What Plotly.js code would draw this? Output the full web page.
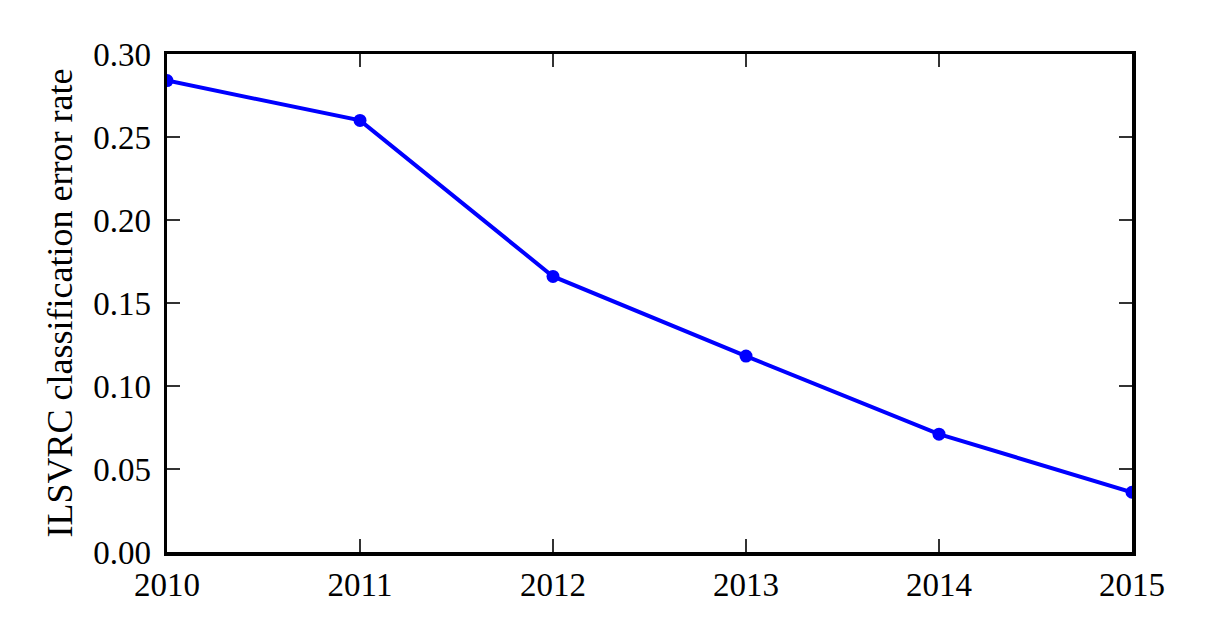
<!DOCTYPE html>
<html><head><meta charset="utf-8">
<script src="https://cdn.plot.ly/plotly-3.0.1.min.js"></script>
<style>html,body{margin:0;padding:0;background:#fff}</style>
</head><body>
<div id="chart" style="width:1213px;height:622px"></div>
<script>
const years = [2010, 2011, 2012, 2013, 2014, 2015];
const errorRate = [0.284, 0.260, 0.166, 0.118, 0.071, 0.036];
const yTicks = [0, 0.05, 0.10, 0.15, 0.20, 0.25, 0.30];
const yTickLabels = ['0.00', '0.05', '0.10', '0.15', '0.20', '0.25', '0.30'];
const xTickLabels = ['2010', '2011', '2012', '2013', '2014', '2015'];

const font = {family: 'Liberation Serif, DejaVu Serif, serif', size: 33, color: '#000'};
Plotly.newPlot('chart', [{
  x: years, y: errorRate, type: 'scatter', mode: 'lines+markers',
  line: {color: '#0000ff', width: 4},
  marker: {color: '#0000ff', size: 13},
  cliponaxis: true
}], {
  width: 1213, height: 622,
  margin: {l: 167, r: 81, t: 54, b: 70},
  paper_bgcolor: '#fff', plot_bgcolor: '#fff',
  showlegend: false,
  font: font,
  xaxis: {
    range: [2010, 2015], tickvals: years, ticktext: xTickLabels,
    ticks: 'inside', ticklen: 13, tickwidth: 1.5, tickcolor: '#333',
    showline: true, linewidth: 3.5, linecolor: '#000', mirror: 'ticks',
    showgrid: false, zeroline: false, ticklabelstandoff: 1
  },
  yaxis: {
    range: [0, 0.3], tickvals: yTicks, ticktext: yTickLabels,
    ticks: 'inside', ticklen: 13, tickwidth: 1.5, tickcolor: '#333',
    showline: true, linewidth: 3.5, linecolor: '#000', mirror: 'ticks',
    showgrid: false, zeroline: false, ticklabelstandoff: 6,
    title: {text: 'ILSVRC classification error rate', font: {family: font.family, size: 36}, standoff: 10}
  }
}, {displayModeBar: false, staticPlot: true});
</script>
</body></html>
